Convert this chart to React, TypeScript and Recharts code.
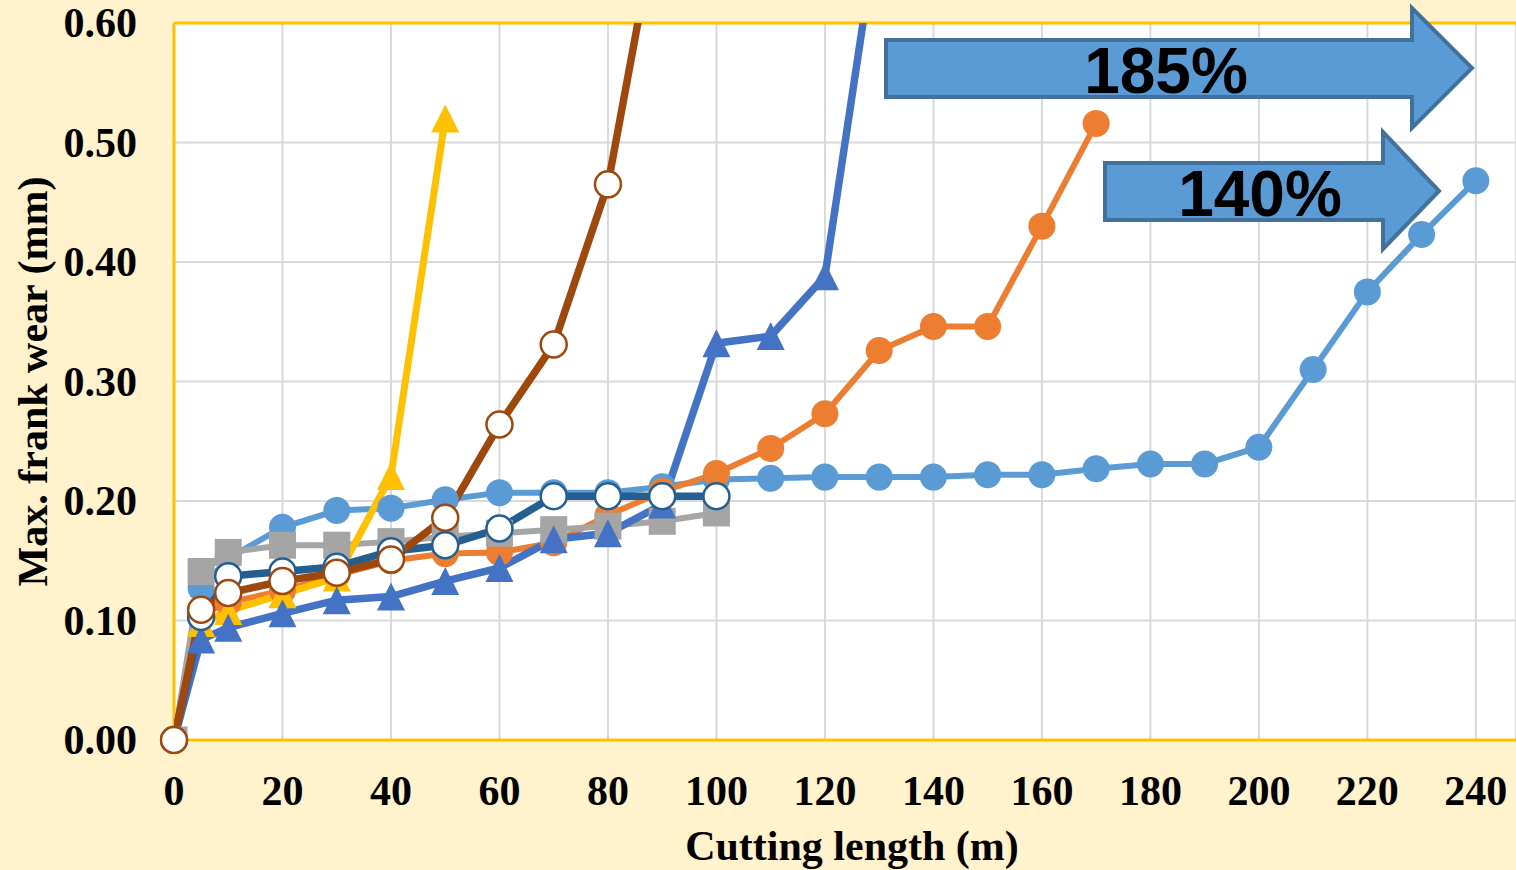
import { LineChart, Line, XAxis, YAxis, CartesianGrid, ReferenceLine, Label } from 'recharts'

// cutting length (m) at each measurement
const lengths = [0, 5, 10, 20, 30, 40, 50, 60, 70, 80, 90, 100, 110, 120, 130, 140, 150, 160, 170, 180, 190, 200, 210, 220, 230, 240]

// max. flank wear (mm), one list per tool
const wearLightBlue = [0, 0.127, 0.152, 0.178, 0.192, 0.194, 0.201, 0.207, 0.207, 0.207, 0.212, 0.218, 0.219, 0.22, 0.22, 0.22, 0.222, 0.222, 0.227, 0.231, 0.231, 0.245, 0.31, 0.375, 0.423, 0.468]
const wearOrange = [0, 0.105, 0.115, 0.125, 0.138, 0.15, 0.156, 0.157, 0.165, 0.188, 0.208, 0.223, 0.244, 0.273, 0.326, 0.346, 0.346, 0.43, 0.516]
const wearGray = [0, 0.141, 0.157, 0.163, 0.163, 0.166, 0.17, 0.173, 0.176, 0.179, 0.183, 0.19]
const wearYellow = [0, 0.098, 0.108, 0.122, 0.136, 0.221, 0.52]
const wearBlue = [0, 0.084, 0.094, 0.106, 0.117, 0.12, 0.133, 0.144, 0.168, 0.173, 0.197, 0.332, 0.338, 0.388, 0.69]
const wearDarkBlue = [0, 0.103, 0.137, 0.141, 0.145, 0.158, 0.163, 0.177, 0.204, 0.204, 0.204, 0.204]
const wearBrown = [0, 0.109, 0.123, 0.133, 0.14, 0.151, 0.186, 0.264, 0.331, 0.465, 0.71]

const xTicks = [0, 20, 40, 60, 80, 100, 120, 140, 160, 180, 200, 220, 240]
const yTicks = [0, 0.1, 0.2, 0.3, 0.4, 0.5, 0.6]

const chartData = lengths.map((x, i) => ({
  x,
  s1: wearLightBlue[i],
  s2: wearOrange[i],
  s3: wearGray[i],
  s4: wearYellow[i],
  s5: wearBlue[i],
  s7: wearDarkBlue[i],
  s8: wearBrown[i],
}))

const SERIF = "'Liberation Serif', 'Times New Roman', serif"
const SANS = "'Liberation Sans', Arial, sans-serif"

const triangleDot = (color: string) => (props: any) => {
  const { cx, cy, index } = props
  if (cx == null || cy == null) return <g key={`t-${index}`} />
  const h = 14
  return (
    <polygon
      key={`t-${index}`}
      points={`${cx},${cy - h} ${cx + h},${cy + h} ${cx - h},${cy + h}`}
      fill={color}
    />
  )
}

const squareDot = (color: string) => (props: any) => {
  const { cx, cy, index } = props
  if (cx == null || cy == null) return <g key={`s-${index}`} />
  const s = 13.5
  return <rect key={`s-${index}`} x={cx - s} y={cy - s} width={s * 2} height={s * 2} fill={color} />
}

const YTick = (props: any) => {
  const { x, y, payload } = props
  return (
    <text x={x} y={y} dy={14} textAnchor="end" fontFamily={SERIF} fontWeight="bold" fontSize={42} fill="#000">
      {Number(payload.value).toFixed(2)}
    </text>
  )
}

const XTick = (props: any) => {
  const { x, y, payload } = props
  return (
    <text x={x} y={y + 63} textAnchor="middle" fontFamily={SERIF} fontWeight="bold" fontSize={42} fill="#000">
      {payload.value}
    </text>
  )
}

export default function App() {
  return (
    <div style={{ position: 'absolute', left: 0, top: 0, width: 1516, height: 870, background: '#FFF2CC' }}>
      <LineChart width={1516} height={870} data={chartData} margin={{ top: 23, right: 0, bottom: 0, left: 0 }}>
        <CartesianGrid stroke="#D9D9D9" strokeWidth={2} fill="#FFFFFF" fillOpacity={1} />
        <XAxis
          type="number"
          dataKey="x"
          domain={[0, 247.4]}
          ticks={xTicks}
          allowDataOverflow
          height={130}
          tickSize={0}
          tickLine={false}
          axisLine={false}
          tick={<XTick />}
        >
          <Label
            content={(p: any) => {
              const vb = p.viewBox
              return (
                <text x={vb.x + vb.width / 2 + 7} y={vb.y + 120} textAnchor="middle" fontFamily={SERIF} fontWeight="bold" fontSize={42} fill="#000">
                  Cutting length (m)
                </text>
              )
            }}
          />
        </XAxis>
        <YAxis
          type="number"
          domain={[0, 0.6]}
          ticks={yTicks}
          allowDataOverflow
          width={174}
          tickSize={0}
          tickMargin={37}
          tickLine={false}
          axisLine={false}
          tick={<YTick />}
        >
          <Label
            content={(p: any) => {
              const vb = p.viewBox
              const cx = vb.x + 47
              const cy = vb.y + vb.height / 2
              return (
                <text transform={`translate(${cx},${cy}) rotate(-90)`} textAnchor="middle" fontFamily={SERIF} fontWeight="bold" fontSize={42} fill="#000">
                  Max. frank wear (mm)
                </text>
              )
            }}
          />
        </YAxis>
        <ReferenceLine y={0.6} stroke="#FFC000" strokeWidth={3} />
        <ReferenceLine x={0} stroke="#FFC000" strokeWidth={3} />
        <ReferenceLine y={0} stroke="#FFC000" strokeWidth={3} />

        <Line type="linear" dataKey="s1" stroke="#5B9BD5" strokeWidth={6} isAnimationActive={false}
          dot={{ r: 13.5, fill: '#5B9BD5', stroke: '#5B9BD5', strokeWidth: 0, clipDot: false }} />
        <Line type="linear" dataKey="s2" stroke="#ED7D31" strokeWidth={6} isAnimationActive={false}
          dot={{ r: 13.5, fill: '#ED7D31', stroke: '#ED7D31', strokeWidth: 0, clipDot: false }} />
        <Line type="linear" dataKey="s3" stroke="#A5A5A5" strokeWidth={6} isAnimationActive={false}
          dot={squareDot('#A5A5A5')} />
        <Line type="linear" dataKey="s4" stroke="#FFC000" strokeWidth={7} isAnimationActive={false}
          dot={triangleDot('#FFC000')} />
        <Line type="linear" dataKey="s5" stroke="#4472C4" strokeWidth={7.5} isAnimationActive={false}
          dot={triangleDot('#4472C4')} />
        <Line type="linear" dataKey="s7" stroke="#255E91" strokeWidth={7.5} isAnimationActive={false}
          dot={{ r: 13, fill: '#FFFFFF', stroke: '#255E91', strokeWidth: 2.5, clipDot: false }} />
        <Line type="linear" dataKey="s8" stroke="#9E480E" strokeWidth={7.5} isAnimationActive={false}
          dot={{ r: 13, fill: '#FFFFFF', stroke: '#9E480E', strokeWidth: 2.5, clipDot: false }} />
      </LineChart>

      {/* improvement arrows */}
      <svg width={1516} height={870} style={{ position: 'absolute', left: 0, top: 0, pointerEvents: 'none' }}>
        <polygon
          points="886,40 1412,40 1412,8 1472,68 1412,128 1412,97 886,97"
          fill="#5B9BD5"
          stroke="#41719C"
          strokeWidth={4}
        />
        <text x={1166} y={93} textAnchor="middle" fontFamily={SANS} fontWeight="bold" fontSize={64} fill="#000">
          185%
        </text>
        <polygon
          points="1105,163 1383,163 1383,132 1439,191 1383,249 1383,220 1105,220"
          fill="#5B9BD5"
          stroke="#41719C"
          strokeWidth={4}
        />
        <text x={1260} y={216} textAnchor="middle" fontFamily={SANS} fontWeight="bold" fontSize={64} fill="#000">
          140%
        </text>
      </svg>
    </div>
  )
}
